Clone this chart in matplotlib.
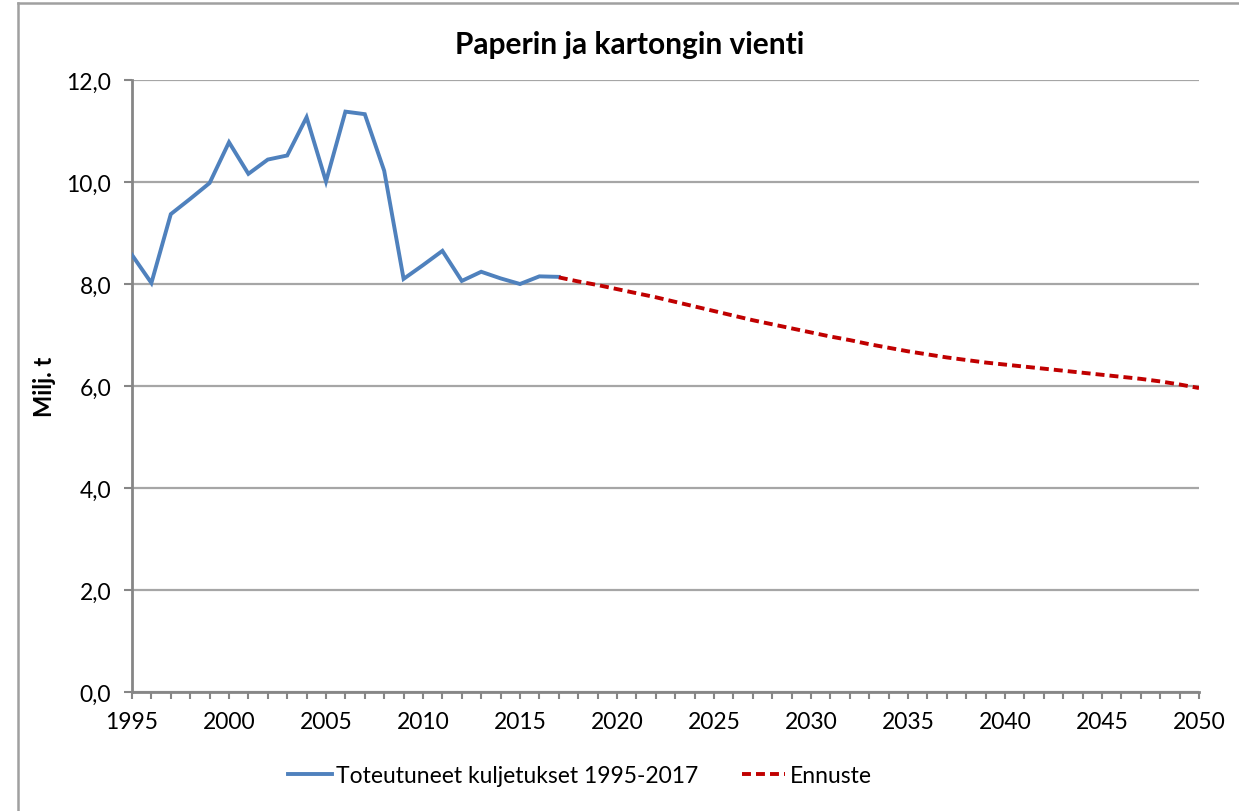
import matplotlib
matplotlib.use("Agg")
import matplotlib.pyplot as plt
from matplotlib.lines import Line2D
from matplotlib.ticker import MultipleLocator, FuncFormatter

# --- data ---
years_actual = list(range(1995, 2018))
values_actual = [8.57, 8.02, 9.37, 9.67, 9.98, 10.78, 10.16, 10.44, 10.52, 11.27,
                 10.01, 11.38, 11.33, 10.22, 8.10, 8.37, 8.65, 8.06, 8.24, 8.11,
                 8.00, 8.15, 8.14]
years_forecast = list(range(2017, 2051))
values_forecast = [8.13, 8.05, 7.98, 7.90, 7.82, 7.74, 7.65, 7.56, 7.47, 7.38,
                   7.29, 7.21, 7.13, 7.05, 6.97, 6.90, 6.82, 6.75, 6.68, 6.62,
                   6.56, 6.51, 6.46, 6.42, 6.38, 6.34, 6.30, 6.26, 6.22, 6.18,
                   6.14, 6.09, 6.03, 5.96]
title = "Paperin ja kartongin vienti"
ylabel = "Milj. t"
label_actual = "Toteutuneet kuljetukset 1995-2017"
label_forecast = "Ennuste"

FONT = "Lato"
plt.rcParams['font.family'] = [FONT, 'DejaVu Sans']

W, H = 1239, 812
fig = plt.figure(figsize=(W / 100, H / 100), dpi=100)
fig.patch.set_facecolor("white")

ax = fig.add_axes([132 / W, 1 - 693 / H, (1199 - 132) / W, (693 - 81) / H])

blue = "#4F81BD"
red = "#C00000"
grid_c = "#A6A6A6"
axis_c = "#868686"

ax.plot(years_actual, values_actual, color=blue, lw=2.8, solid_joinstyle="miter",
        label=label_actual, zorder=3)
ax.plot(years_forecast, values_forecast, color=red, lw=2.8, dashes=(2.3, 1.3),
        label=label_forecast, zorder=3)

ax.set_xlim(1995, 2050)
ax.set_ylim(0, 12)
ax.yaxis.set_major_locator(MultipleLocator(2))
ax.xaxis.set_major_locator(MultipleLocator(5))
ax.xaxis.set_minor_locator(MultipleLocator(1))
ax.yaxis.set_major_formatter(FuncFormatter(lambda v, p: f"{v:.1f}".replace(".", ",")))

ax.grid(axis="y", color=grid_c, lw=1.6)
ax.set_axisbelow(True)
for s in ["top", "right"]:
    ax.spines[s].set_visible(False)
for s in ["left", "bottom"]:
    ax.spines[s].set_color(axis_c)
    ax.spines[s].set_linewidth(2.0)

ax.tick_params(axis="x", which="both", direction="out", length=5, width=1.5,
               color=axis_c, labelsize=16.5, pad=9)
ax.tick_params(axis="y", which="major", direction="out", length=6, width=1.5,
               color=axis_c, labelsize=16.5, pad=9)

fig.text(630 / W, 1 - 45 / H, title, fontsize=21.5, fontweight="bold",
         ha="center", va="center")
fig.text(45 / W, 1 - 387 / H, ylabel, rotation=90, fontsize=17, fontweight="bold",
         ha="center", va="center")

handles = [Line2D([], [], color=blue, lw=2.8),
           Line2D([], [], color=red, lw=2.8, dashes=(2.3, 1.3))]
fig.legend(handles, [label_actual, label_forecast], loc="center",
           bbox_to_anchor=(580 / W, 1 - 777 / H), ncol=2, frameon=False,
           fontsize=16.5, handlelength=1.9, handletextpad=0.2, columnspacing=1.9)

# figure border (top and left visible)
fig.add_artist(Line2D([18 / W, 1], [1 - 4 / H, 1 - 4 / H], color="#A0A0A0", lw=1.8,
                      transform=fig.transFigure))
fig.add_artist(Line2D([18 / W, 18 / W], [0, 1 - 4 / H], color="#A0A0A0", lw=1.8,
                      transform=fig.transFigure))

fig.savefig("out.png", dpi=100)
